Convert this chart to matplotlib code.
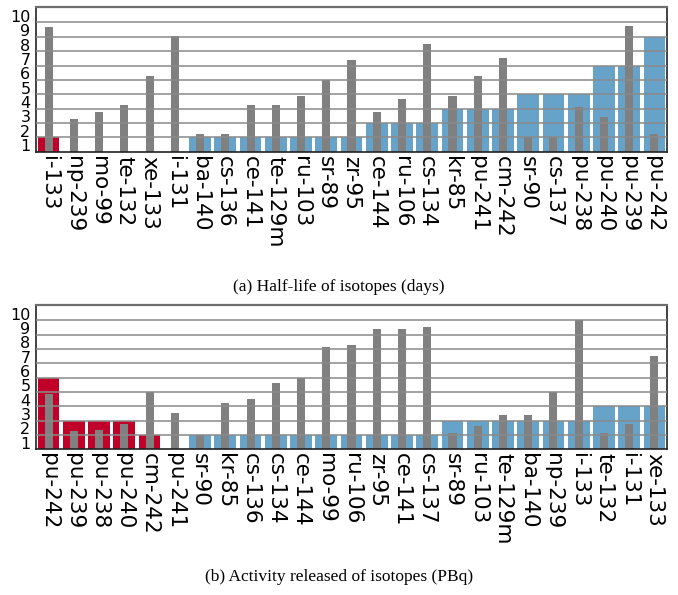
import matplotlib
matplotlib.use("Agg")
import matplotlib.pyplot as plt
import numpy as np

# (a) half-life: isotope order, level bar (colored), grey bar value
iso_a = ["i-133", "np-239", "mo-99", "te-132", "xe-133", "i-131", "ba-140", "cs-136",
         "ce-141", "te-129m", "ru-103", "sr-89", "zr-95", "ce-144", "ru-106", "cs-134",
         "kr-85", "pu-241", "cm-242", "sr-90", "cs-137", "pu-238", "pu-240", "pu-239", "pu-242"]
level_a = [1, 0, 0, 0, 0, 0, 1, 1, 1, 1, 1, 1, 1, 2, 2, 2, 3, 3, 3, 4, 4, 4, 6, 6, 8]
red_a = [True] + [False] * 24
grey_a = [8.70, 2.28, 2.77, 3.26, 5.28, 8.02, 1.23, 1.23, 3.26, 3.26, 3.88, 5.02,
          6.40, 2.77, 3.67, 7.51, 3.88, 5.28, 6.53, 1.0, 1.0, 3.12, 2.42, 8.77, 1.23]

# (b) activity released
iso_b = ["pu-242", "pu-239", "pu-238", "pu-240", "cm-242", "pu-241", "sr-90", "kr-85",
         "cs-136", "cs-134", "ce-144", "mo-99", "ru-106", "zr-95", "ce-141", "cs-137",
         "sr-89", "ru-103", "te-129m", "ba-140", "np-239", "i-133", "te-132", "i-131", "xe-133"]
level_b = [5, 2, 2, 2, 1, 0, 1, 1, 1, 1, 1, 1, 1, 1, 1, 1, 2, 2, 2, 2, 2, 2, 3, 3, 3]
red_b = [True, True, True, True, True] + [False] * 20
grey_b = [3.85, 1.28, 1.35, 1.76, 4.01, 2.53, 1.0, 3.23, 3.50, 4.62, 4.99, 7.12,
          7.26, 8.38, 8.38, 8.52, 1.14, 1.62, 2.39, 2.39, 3.99, 9.0, 1.14, 1.76, 6.50]

RED = "#c1002a"
BLUE = "#67a3c9"
GREY = "#808080"

fig = plt.figure(figsize=(6.78, 5.95), dpi=100)
ax_a = fig.add_axes([0.0531, 0.745, 0.9307, 0.2427])
ax_b = fig.add_axes([0.0531, 0.2449, 0.9307, 0.2420])


def draw(ax, names, levels, reds, greys, caption, cap_y):
    x = np.arange(len(names))
    colors = [RED if r else BLUE for r in reds]
    ax.bar(x, levels, width=0.86, color=colors, zorder=1)
    ax.bar(x, greys, width=0.32, color=GREY, zorder=2)
    for k in range(1, 10):
        ax.axhline(k, color="#8a8a8a", lw=1.3, alpha=0.85, zorder=3)
    ax.set_xlim(-0.5, len(names) - 0.5)
    ax.set_ylim(0, 10.05)
    ax.set_yticks(np.arange(1, 11) - 0.65)
    ax.set_yticklabels([str(k) for k in range(1, 11)], fontsize=11.5)
    ax.set_xticks(x)
    ax.set_xticklabels(names, rotation=-90, fontsize=15.5, va="top", ha="center")
    ax.tick_params(length=0, pad=3)
    ax.tick_params(axis="y", pad=4)
    for side in ["left", "bottom", "right"]:
        ax.spines[side].set_color("#222222")
        ax.spines[side].set_linewidth(1.2)
    ax.spines["top"].set_color("#6e6e6e")
    ax.spines["top"].set_linewidth(1.6)
    for lab in ax.get_yticklabels():
        lab.set_va("center")
    fig.text(0.5, cap_y, caption, ha="center", va="center",
             family="Liberation Serif", fontsize=12.5)


draw(ax_a, iso_a, level_a, red_a, grey_a, "(a) Half-life of isotopes (days)", 1 - 287 / 595)
draw(ax_b, iso_b, level_b, red_b, grey_b, "(b) Activity released of isotopes (PBq)", 1 - 577 / 595)

fig.savefig("out.png", dpi=100)
